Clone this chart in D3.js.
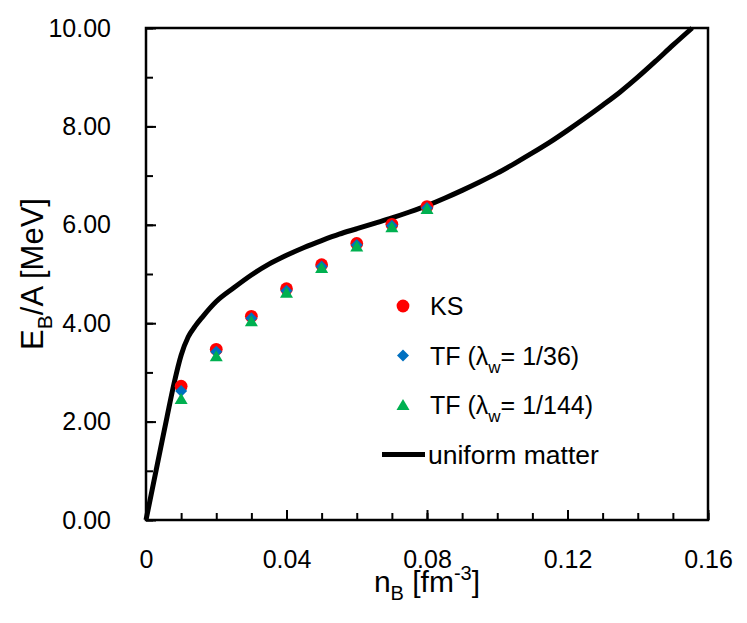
<!DOCTYPE html>
<html>
<head>
<meta charset="utf-8">
<script src="https://cdn.jsdelivr.net/npm/d3@7"></script>
<style>
  body { margin: 0; background: #fff; }
  text { font-family: "Liberation Sans", Arial, sans-serif; fill: #000; }
</style>
</head>
<body>
<script>
// density points for the finite-nuclei calculations
var densities = [0.01, 0.02, 0.03, 0.04, 0.05, 0.06, 0.07, 0.08];
var ksValues = [2.72, 3.47, 4.14, 4.70, 5.19, 5.62, 6.01, 6.37];
var tf36Values = [2.62, 3.42, 4.10, 4.66, 5.15, 5.59, 5.98, 6.34];
var tf144Values = [2.46, 3.33, 4.04, 4.62, 5.12, 5.56, 5.95, 6.32];

// uniform matter curve
var uniformN = [0, 0.002, 0.004, 0.006, 0.008, 0.010, 0.012, 0.014, 0.016, 0.020,
  0.025, 0.030, 0.035, 0.040, 0.045, 0.050, 0.055, 0.060, 0.065, 0.070, 0.075,
  0.080, 0.085, 0.090, 0.095, 0.100, 0.105, 0.110, 0.115, 0.120, 0.125, 0.130,
  0.135, 0.140, 0.145, 0.150, 0.1555];
var uniformE = [0, 0.70, 1.40, 2.10, 2.78, 3.35, 3.72, 3.94, 4.12, 4.44,
  4.72, 4.98, 5.20, 5.38, 5.54, 5.68, 5.81, 5.92, 6.03, 6.14, 6.26,
  6.39, 6.54, 6.70, 6.87, 7.05, 7.25, 7.46, 7.68, 7.92, 8.17, 8.43,
  8.70, 9.00, 9.32, 9.65, 10.0];

var xMajorTicks = [0, 0.04, 0.08, 0.12, 0.16];
var xMinorTicks = d3.range(0, 0.1601, 0.01);
var yMajorTicks = [0, 2, 4, 6, 8, 10];
var yMinorTicks = d3.range(0, 10.01, 1);

var legendLabels = ["KS", "TF (λ", "TF (λ", "uniform matter"];

var width = 747, height = 623;
var margin = {top: 28, right: 39, bottom: 103, left: 146};
var w = width - margin.left - margin.right,
    h = height - margin.top - margin.bottom;

var svg = d3.select("body").append("svg")
    .attr("width", width)
    .attr("height", height);

var g = svg.append("g")
    .attr("transform", "translate(" + margin.left + "," + margin.top + ")");

var x = d3.scaleLinear().domain([0, 0.16]).range([0, w]);
var y = d3.scaleLinear().domain([0, 10]).range([h, 0]);

// minor ticks (inside)
g.append("g")
    .attr("transform", "translate(0," + h + ")")
    .call(d3.axisBottom(x).tickValues(xMinorTicks).tickSize(-7).tickFormat(""))
    .call(function (a) { a.select(".domain").remove(); });
g.append("g")
    .call(d3.axisLeft(y).tickValues(yMinorTicks).tickSize(-7).tickFormat(""))
    .call(function (a) { a.select(".domain").remove(); });

// major ticks with labels
var xAxis = g.append("g")
    .attr("transform", "translate(0," + h + ")")
    .call(d3.axisBottom(x).tickValues(xMajorTicks).tickSize(-10).tickPadding(30)
        .tickFormat(function (d) { return d === 0 ? "0" : d3.format(".2f")(d); }));
xAxis.select(".domain").remove();

var yAxis = g.append("g")
    .call(d3.axisLeft(y).tickValues(yMajorTicks).tickSize(-10).tickPadding(35)
        .tickFormat(d3.format(".2f")));
yAxis.select(".domain").remove();

g.selectAll(".tick line").attr("stroke", "#000").attr("stroke-width", 2);
g.selectAll(".tick text")
    .style("font-family", "'Liberation Sans', Arial, sans-serif")
    .style("font-size", "25px")
    .attr("fill", "#000");

// frame
g.append("rect")
    .attr("width", w)
    .attr("height", h)
    .attr("fill", "none")
    .attr("stroke", "#000")
    .attr("stroke-width", 2.5);

// uniform matter line
var line = d3.line()
    .x(function (d) { return x(d[0]); })
    .y(function (d) { return y(d[1]); })
    .curve(d3.curveMonotoneX);

g.append("path")
    .datum(d3.zip(uniformN, uniformE))
    .attr("d", line)
    .attr("fill", "none")
    .attr("stroke", "#000")
    .attr("stroke-width", 5);

// marker shapes
var circlePath = d3.symbol().type(d3.symbolCircle).size(Math.PI * 6.4 * 6.4)();
var diamondPath = "M0,-6L6,0L0,6L-6,0Z";
var trianglePath = "M0,-6L6.5,5L-6.5,5Z";

var series = [
  {name: "KS", values: ksValues, color: "#ff0000", path: circlePath},
  {name: "TF36", values: tf36Values, color: "#0070c0", path: diamondPath},
  {name: "TF144", values: tf144Values, color: "#00b050", path: trianglePath}
];

series.forEach(function (s) {
  g.append("g").selectAll("path")
      .data(d3.zip(densities, s.values))
      .enter()
      .append("path")
      .attr("d", s.path)
      .attr("fill", s.color)
      .attr("transform", function (d) {
        return "translate(" + x(d[0]) + "," + y(d[1]) + ")";
      });
});

// legend
var legend = svg.append("g").attr("transform", "translate(403,306)");
var rowGap = 49.5;

series.forEach(function (s, i) {
  legend.append("path")
      .attr("d", s.path)
      .attr("fill", s.color)
      .attr("transform", "translate(0," + i * rowGap + ")");
});
legend.append("line")
    .attr("x1", -21).attr("x2", 22)
    .attr("y1", 3 * rowGap).attr("y2", 3 * rowGap)
    .attr("stroke", "#000")
    .attr("stroke-width", 5);

var lt = legend.append("g").style("font-size", "25px");
lt.append("text").attr("x", 27).attr("y", 9).text(legendLabels[0]);

var t1 = lt.append("text").attr("x", 27).attr("y", rowGap + 9).text(legendLabels[1]);
t1.append("tspan").attr("dy", 8).style("font-size", "17px").text("w");
t1.append("tspan").attr("dy", -8).text("= 1/36)");

var t2 = lt.append("text").attr("x", 27).attr("y", 2 * rowGap + 9).text(legendLabels[2]);
t2.append("tspan").attr("dy", 8).style("font-size", "17px").text("w");
t2.append("tspan").attr("dy", -8).text("= 1/144)");

lt.append("text").attr("x", 25).attr("y", 3 * rowGap + 9)
    .style("font-size", "26.5px").text(legendLabels[3]);

// axis titles
var xt = svg.append("text")
    .attr("x", margin.left + w / 2)
    .attr("y", 592)
    .attr("text-anchor", "middle")
    .style("font-size", "30px")
    .text("n");
xt.append("tspan").attr("dy", 8).style("font-size", "20px").text("B");
xt.append("tspan").attr("dy", -8).text(" [fm");
xt.append("tspan").attr("dy", -12).style("font-size", "20px").text("-3");
xt.append("tspan").attr("dy", 12).text("]");

var yt = svg.append("text")
    .attr("transform", "translate(43," + (margin.top + h / 2) + ") rotate(-90)")
    .attr("text-anchor", "middle")
    .style("font-size", "31px")
    .text("E");
yt.append("tspan").attr("dy", 9).style("font-size", "21px").text("B");
yt.append("tspan").attr("dy", -9).text("/A [MeV]");
</script>
</body>
</html>
